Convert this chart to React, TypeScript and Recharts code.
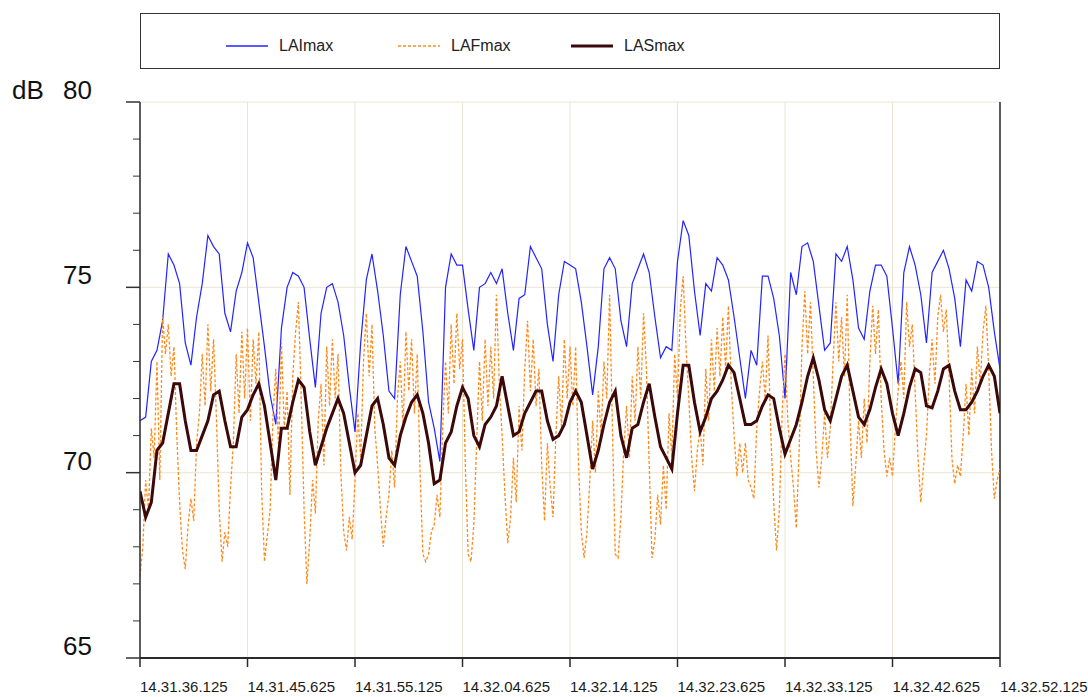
import React from 'react';
import { LineChart, Line, XAxis, YAxis, CartesianGrid, Legend, ReferenceLine } from 'recharts';

// X axis: seconds after 14.31.36.125
const timeTicks = [0, 9.5, 19, 28.5, 38, 47.5, 57, 66.5, 76];
const timeTickLabels = [
  '14.31.36.125', '14.31.45.625', '14.31.55.125', '14.32.04.625', '14.32.14.125',
  '14.32.23.625', '14.32.33.125', '14.32.42.625', '14.32.52.125',
];
const dbTicks = [65, 66, 67, 68, 69, 70, 71, 72, 73, 74, 75, 76, 77, 78, 79, 80];
const dbLabelTicks = [65, 70, 75, 80];
const dbGridValues = [70, 75, 80];
const dbUnit = 'dB';

const seriesNames = ['LAImax', 'LAFmax', 'LASmax'];
const seriesColors = ['#2323ff', '#ff8a1c', '#3c0808'];

const laiStep = 0.5;
const laiValues = [
  71.4, 71.5, 73.0, 73.3, 74.1, 75.9, 75.6, 75.1, 73.5, 72.9,
  74.2, 75.1, 76.4, 76.1, 75.9, 74.3, 73.8, 74.9, 75.4, 76.2,
  75.8, 74.6, 73.4, 72.1, 71.3, 73.9, 75.0, 75.4, 75.3, 75.0,
  73.6, 72.3, 74.3, 75.0, 75.1, 74.6, 73.7, 72.3, 71.1, 73.5,
  75.2, 75.9, 74.9, 73.7, 72.2, 72.0, 74.8, 76.1, 75.7, 75.3,
  73.8, 71.9, 71.2, 70.3, 75.0, 75.9, 75.6, 75.6, 74.4, 73.3,
  75.0, 75.1, 75.4, 75.1, 75.5, 74.3, 73.3, 74.7, 74.8, 76.1,
  75.8, 75.5, 74.0, 73.0, 74.8, 75.7, 75.6, 75.5, 74.6, 73.4,
  72.1, 73.4, 75.5, 75.8, 75.5, 74.1, 73.4, 75.1, 75.5, 75.9,
  75.4, 74.2, 73.1, 73.4, 73.3, 75.7, 76.8, 76.4, 74.9, 73.7,
  75.1, 74.9, 75.8, 75.6, 75.2, 74.2, 73.1, 72.0, 73.3, 72.9,
  75.3, 75.3, 74.7, 73.7, 72.0, 75.4, 74.8, 76.1, 76.2, 75.7,
  74.5, 73.3, 73.5, 75.9, 75.7, 76.1, 75.2, 73.9, 73.6, 74.9,
  75.6, 75.6, 75.3, 73.9, 72.4, 75.4, 76.1, 75.6, 74.8, 73.5,
  75.4, 75.7, 76.0, 75.5, 74.7, 73.4, 75.2, 74.9, 75.7, 75.6,
  75.0, 73.8, 72.8,
];

const lafStep = 0.25;
const lafValues = [
  67.2, 68.0, 69.8, 69.0, 71.2, 70.4, 73.0, 69.8, 74.2, 73.2, 74.0, 72.6,
  73.4, 71.0, 69.2, 67.9, 67.4, 68.6, 69.3, 68.7, 70.8, 71.6, 73.2, 71.8,
  74.0, 72.2, 73.6, 71.5, 69.0, 67.6, 68.4, 68.0, 69.6, 70.8, 73.2, 71.6,
  73.8, 72.0, 73.9, 71.4, 73.6, 72.4, 73.8, 69.5, 67.6, 68.3, 69.0, 71.5,
  72.8, 70.6, 73.5, 71.2, 72.2, 69.4, 72.6, 73.8, 74.6, 72.0, 69.0, 67.0,
  68.2, 69.8, 68.9, 71.4, 72.4, 70.2, 73.4, 71.8, 73.6, 72.0, 73.2, 70.0,
  68.4, 67.9, 68.8, 68.2, 69.8, 71.6, 70.4, 73.0, 74.3, 72.6, 74.0, 71.2,
  70.2, 69.0, 68.0, 68.8, 69.4, 70.6, 69.6, 72.0, 73.0, 71.2, 73.8, 72.2,
  73.6, 71.6, 73.2, 70.0, 67.8, 67.6, 67.8, 68.4, 68.6, 69.4, 68.8, 71.2,
  73.0, 71.6, 74.0, 72.4, 74.3, 72.8, 73.6, 70.2, 67.8, 67.6, 68.6, 70.8,
  73.0, 71.4, 73.6, 71.8, 73.4, 72.0, 74.8, 72.4, 71.0, 69.4, 68.1, 68.8,
  70.4, 69.2, 71.8, 70.6, 72.8, 74.1, 72.2, 73.6, 71.8, 72.8, 70.2, 68.7,
  70.8, 69.6, 68.8, 71.0, 72.6, 71.2, 73.6, 72.0, 73.4, 71.8, 73.4, 70.2,
  68.4, 67.7, 68.4, 69.8, 71.4, 70.0, 72.2, 71.0, 73.0, 72.0, 74.8, 71.2,
  67.8, 67.7, 68.8, 70.6, 71.8, 70.4, 72.6, 71.4, 73.4, 72.0, 74.3, 72.8,
  70.2, 67.7, 68.2, 69.4, 68.6, 70.2, 69.0, 71.6, 70.4, 73.2, 72.0, 74.4,
  75.3, 73.4, 72.0, 70.4, 69.5, 70.6, 71.2, 70.2, 72.8, 71.4, 73.6, 72.2,
  73.9, 72.6, 74.2, 72.8, 74.5, 72.4, 71.0, 69.9, 70.8, 70.0, 70.8, 69.8,
  69.6, 69.3, 71.2, 72.2, 73.0, 72.0, 73.7, 71.0, 69.2, 67.9, 69.0, 71.6,
  73.2, 71.4, 70.4, 69.6, 68.5, 70.6, 73.4, 74.9, 73.2, 74.6, 72.6, 70.6,
  69.6, 70.4, 71.6, 70.4, 71.2, 73.0, 74.6, 73.0, 74.2, 72.6, 74.8, 71.4,
  69.1, 70.2, 71.4, 70.4, 72.0, 70.8, 73.0, 74.5, 73.2, 74.4, 72.0, 70.6,
  69.9, 70.4, 69.9, 71.2, 72.2, 73.0, 72.0, 74.6, 73.4, 74.0, 72.2, 70.4,
  69.2, 70.2, 71.0, 72.6, 73.6, 72.4, 74.2, 74.8, 73.8, 74.4, 72.6, 70.4,
  69.7, 70.2, 69.9, 71.0, 72.4, 71.0, 72.8, 71.6, 73.4, 72.4, 73.8, 74.5,
  72.8, 70.6, 69.3, 69.8, 70.1,
];

const lasStep = 0.5;
const lasValues = [
  69.5, 68.8, 69.2, 70.6, 70.8, 71.6, 72.4, 72.4, 71.4, 70.6,
  70.6, 71.0, 71.4, 72.1, 72.2, 71.4, 70.7, 70.7, 71.5, 71.7,
  72.1, 72.4, 71.8, 70.8, 69.8, 71.2, 71.2, 71.9, 72.5, 72.3,
  71.1, 70.2, 70.7, 71.2, 71.6, 72.0, 71.6, 70.8, 70.0, 70.2,
  71.0, 71.8, 72.0, 71.3, 70.4, 70.2, 71.0, 71.5, 71.9, 72.1,
  71.6, 70.8, 69.7, 69.8, 70.8, 71.1, 71.8, 72.3, 72.0, 71.0,
  70.7, 71.3, 71.5, 71.8, 72.6, 71.8, 71.0, 71.1, 71.6, 71.9,
  72.2, 72.2, 71.4, 70.9, 71.0, 71.3, 71.9, 72.2, 71.9, 71.0,
  70.1, 70.6, 71.3, 71.9, 72.2, 71.0, 70.4, 71.2, 71.3, 71.9,
  72.4, 71.5, 70.7, 70.4, 70.1, 71.6, 72.9, 72.9, 71.9, 71.1,
  71.5, 72.0, 72.2, 72.5, 72.9, 72.7, 72.0, 71.3, 71.3, 71.4,
  71.8, 72.1, 72.0, 71.2, 70.5, 70.9, 71.3, 71.9, 72.6, 73.1,
  72.5, 71.7, 71.4, 72.0, 72.6, 72.9, 72.2, 71.5, 71.3, 71.7,
  72.3, 72.8, 72.4, 71.6, 71.0, 71.6, 72.3, 72.8, 72.7, 71.8,
  71.75, 72.2, 72.8, 72.9, 72.2, 71.7, 71.7, 71.9, 72.2, 72.6,
  72.9, 72.6, 71.6,
];

const toSeries = (values: number[], step: number) =>
  values.map((v, i) => ({ t: i * step, v }));

const laiData = toSeries(laiValues, laiStep);
const lafData = toSeries(lafValues, lafStep);
const lasData = toSeries(lasValues, lasStep);

const FONT = "'Liberation Sans', Arial, sans-serif";

const XTick = (props: any) => {
  const { x, y, payload } = props;
  const idx = timeTicks.indexOf(payload.value);
  return (
    <text x={x} y={y + 25} textAnchor="start" fontSize={15} fontFamily={FONT} fill="#1a1a1a">
      {timeTickLabels[idx]}
    </text>
  );
};

const YTick = (props: any) => {
  const { x, y, payload } = props;
  const v = payload.value;
  const major = dbLabelTicks.includes(v);
  return (
    <g>
      <line x1={x - (major ? 14 : 7)} x2={x} y1={y} y2={y} stroke="#333" strokeWidth={major ? 1.5 : 1} />
      {major && (
        <text x={x - 48} y={y - 3} textAnchor="end" fontSize={26} fontFamily={FONT} fill="#111">
          {v}
        </text>
      )}
      {v === dbTicks[dbTicks.length - 1] && (
        <text x={12} y={y - 3} textAnchor="start" fontSize={26} fontFamily={FONT} fill="#111">
          {dbUnit}
        </text>
      )}
    </g>
  );
};

const legendOffsets = [85, 257, 430];

const LegendBox = () => (
  <div
    style={{
      position: 'relative',
      width: 860,
      height: 56,
      boxSizing: 'border-box',
      border: '1.5px solid #333',
      background: '#fff',
      fontFamily: FONT,
    }}
  >
    {seriesNames.map((name, i) => (
      <div
        key={name}
        style={{ position: 'absolute', left: legendOffsets[i], top: 22, height: 20, display: 'flex', alignItems: 'center' }}
      >
        <svg width={42} height={6}>
          <line
            x1={0}
            x2={42}
            y1={3}
            y2={3}
            stroke={seriesColors[i]}
            strokeWidth={i === 2 ? 3 : 1.3}
            strokeDasharray={i === 1 ? '3 2' : undefined}
          />
        </svg>
        <span style={{ marginLeft: 11, fontSize: 16, color: '#222' }}>{name}</span>
      </div>
    ))}
  </div>
);

export default function App() {
  return (
    <div style={{ position: 'absolute', left: 0, top: 0, width: 1088, height: 697, background: '#fff' }}>
      <LineChart width={1088} height={697} margin={{ top: 102, right: 88, bottom: 0, left: 80 }}>
        <CartesianGrid
          stroke="#ebe5d4"
          horizontalValues={dbGridValues}
          verticalValues={timeTicks}
        />
        <XAxis
          type="number"
          dataKey="t"
          domain={[0, 76]}
          ticks={timeTicks}
          interval={0}
          height={39}
          tickSize={9}
          tickMargin={0}
          axisLine={{ stroke: '#2a2a2a', strokeWidth: 2 }}
          tickLine={{ stroke: '#2a2a2a', strokeWidth: 1.5 }}
          tick={<XTick />}
          allowDataOverflow
        />
        <YAxis
          type="number"
          domain={[65, 80]}
          ticks={dbTicks}
          interval={0}
          width={60}
          tickSize={0}
          tickMargin={0}
          axisLine={{ stroke: '#2a2a2a', strokeWidth: 1.5 }}
          tickLine={false}
          tick={<YTick />}
          allowDataOverflow
        />
        <ReferenceLine x={76} stroke="#2a2a2a" strokeWidth={1.5} />
        <Legend
          verticalAlign="middle"
          layout="horizontal"
          content={() => <LegendBox />}
          wrapperStyle={{ left: 140, top: 13, width: 860, height: 56, margin: 0 }}
        />
        <Line
          data={laiData}
          dataKey="v"
          name={seriesNames[0]}
          type="linear"
          stroke={seriesColors[0]}
          strokeWidth={1.2}
          dot={false}
          activeDot={false}
          isAnimationActive={false}
        />
        <Line
          data={lafData}
          dataKey="v"
          name={seriesNames[1]}
          type="linear"
          stroke={seriesColors[1]}
          strokeWidth={1.3}
          strokeDasharray="3 2"
          dot={false}
          activeDot={false}
          isAnimationActive={false}
        />
        <Line
          data={lasData}
          dataKey="v"
          name={seriesNames[2]}
          type="linear"
          stroke={seriesColors[2]}
          strokeWidth={3}
          dot={false}
          activeDot={false}
          isAnimationActive={false}
        />
      </LineChart>
    </div>
  );
}
